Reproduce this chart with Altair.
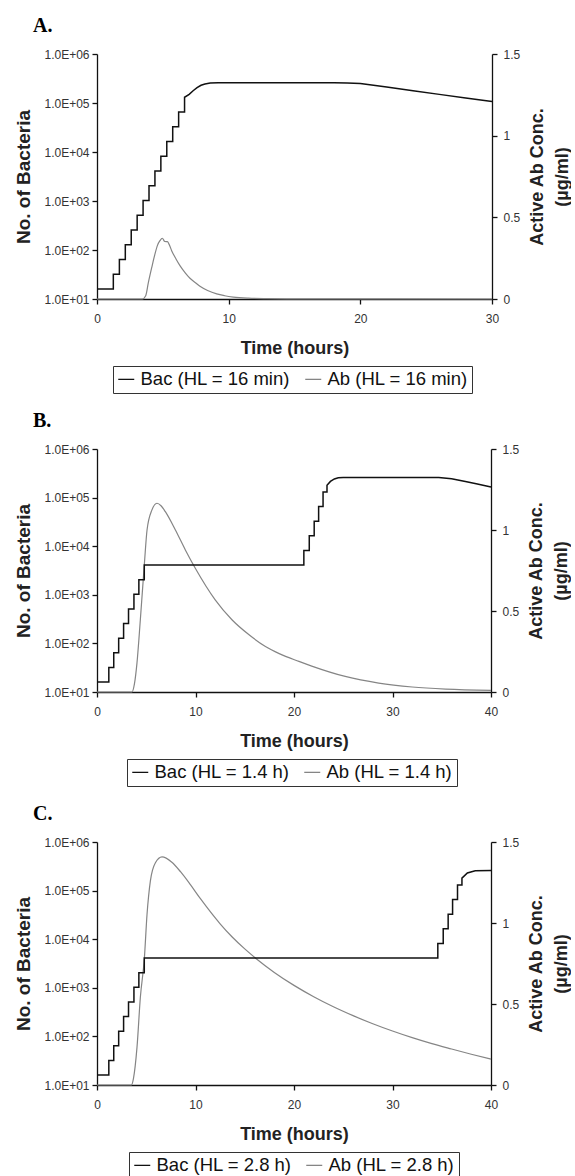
import altair as alt
import pandas as pd

# ---------------- Panel A (HL = 16 min) ----------------
A_bac_label = "Bac (HL = 16 min)"
A_ab_label = "Ab (HL = 16 min)"
A_bac_start = 16
A_bac_rise_t = [1.24, 1.7, 2.15, 2.6, 3.05, 3.5, 3.95, 4.4, 4.85, 5.3, 5.75, 6.2, 6.65]
A_bac_rise_n = [32, 64, 128, 256, 512, 1024, 2048, 4096, 8192, 16384, 32768, 65536, 131072]
A_bac_tail_t = [7.0, 7.3, 7.6, 7.9, 8.2, 8.6, 9.2, 10, 18, 19, 20, 22, 24, 26, 28, 30]
A_bac_tail_n = [150000, 178000, 205000, 230000, 245000, 255000, 260000, 260000, 260000,
                257000, 250000, 211000, 178000, 150000, 127000, 107000]
A_ab_t = [0, 3.45, 3.7, 3.9, 4.15, 4.4, 4.6, 4.78, 4.96, 5.15, 5.35, 5.5, 5.67, 6.0, 6.3,
          6.7, 7.06, 7.5, 7.82, 8.4, 9.09, 9.7, 10.35, 11.5, 12.9, 15, 30]
A_ab_c = [0, 0, 0.02, 0.10, 0.19, 0.275, 0.33, 0.357, 0.372, 0.352, 0.351, 0.33, 0.296,
          0.245, 0.204, 0.16, 0.127, 0.098, 0.078, 0.052, 0.031, 0.02, 0.012, 0.005,
          0.002, 0.0005, 0]

# ---------------- Panel B (HL = 1.4 h) ----------------
B_bac_label = "Bac (HL = 1.4 h)"
B_ab_label = "Ab (HL = 1.4 h)"
B_bac_start = 16
B_bac_rise_t = [1.2, 1.7, 2.2, 2.7, 3.2, 3.75, 4.25, 4.8, 21.0, 21.55, 22.05, 22.5, 22.95, 23.35]
B_bac_rise_n = [32, 64, 128, 256, 512, 1024, 2048, 4096, 8192, 16384, 32768, 65536, 131072, 180000]
B_bac_tail_t = [23.7, 24.1, 24.5, 25, 34.7, 36, 37.4, 38.5, 40]
B_bac_tail_n = [215000, 242000, 255000, 260000, 260000, 245000, 215000, 192000, 166000]
B_ab_t = [0, 3.55, 3.8, 4.06, 4.4, 4.81, 5.08, 5.58, 6.09, 6.5, 6.94, 7.96, 8.97, 9.98,
          12.0, 13.7, 15.5, 17.1, 18.5, 20.5, 21.8, 25.2, 28.6, 32, 35.4, 40]
B_ab_c = [0, 0, 0.05, 0.18, 0.446, 0.79, 1.0, 1.124, 1.165, 1.15, 1.113, 1.0, 0.877, 0.764,
          0.569, 0.446, 0.35, 0.281, 0.237, 0.189, 0.16, 0.096, 0.055, 0.031, 0.018, 0.01]

# ---------------- Panel C (HL = 2.8 h) ----------------
C_bac_label = "Bac (HL = 2.8 h)"
C_ab_label = "Ab (HL = 2.8 h)"
C_bac_start = 16
C_bac_rise_t = [1.2, 1.7, 2.2, 2.7, 3.2, 3.75, 4.25, 4.8, 34.6, 35.15, 35.65, 36.1, 36.6, 37.05]
C_bac_rise_n = [32, 64, 128, 256, 512, 1024, 2048, 4096, 8192, 16384, 32768, 65536, 131072, 180000]
C_bac_tail_t = [37.6, 38.4, 40]
C_bac_tail_n = [230000, 255000, 260000]
C_ab_t = [0, 3.49, 3.7, 4.06, 4.4, 4.81, 5.08, 5.42, 5.93, 6.6, 7.6, 8.5, 9.5, 10.5,
          11.5, 12.5, 13.7, 15, 16.2, 18, 20, 22, 24, 26, 28, 30, 32, 34, 36, 38, 40]
C_ab_c = [0, 0, 0.04, 0.232, 0.54, 0.783, 1.054, 1.26, 1.372, 1.408, 1.375, 1.315, 1.235,
          1.15, 1.07, 0.995, 0.915, 0.84, 0.778, 0.695, 0.615, 0.545, 0.483, 0.428, 0.378,
          0.333, 0.292, 0.255, 0.222, 0.19, 0.16]

BAC_COLOR = "#111111"
AB_COLOR = "#858585"
FONT = "Liberation Sans"


def bac_frame(start, rise_t, rise_n, tail_t, tail_n, label):
    rows = [(0.0, start)]
    prev = start
    for t, n in zip(rise_t, rise_n):
        rows.append((t, prev))
        rows.append((t, n))
        prev = n
    rows += list(zip(tail_t, tail_n))
    df = pd.DataFrame(rows, columns=["t", "v"])
    df["i"] = range(len(df))
    df["series"] = label
    return df


def ab_frame(ts, cs, label):
    df = pd.DataFrame({"t": ts, "v": cs})
    df["i"] = range(len(df))
    df["series"] = label
    return df


def panel(letter, xmax, bac_df, ab_df, bac_label, ab_label, w, h, legend_x):
    xenc = alt.X(
        "t:Q",
        scale=alt.Scale(domain=[0, xmax], nice=False),
        axis=alt.Axis(values=list(range(0, xmax + 1, 10)), title="Time (hours)",
                      labelFlush=False, labelPadding=9, titlePadding=15),
    )
    color = alt.Color(
        "series:N",
        scale=alt.Scale(domain=[bac_label, ab_label], range=[BAC_COLOR, AB_COLOR]),
        legend=alt.Legend(
            title=None, orient="none", legendX=legend_x, legendY=h + 67,
            direction="horizontal", symbolType="stroke", symbolSize=256,
            symbolStrokeWidth=1.3, labelFont=FONT, labelFontSize=18.5,
            labelColor="#111111", labelLimit=400, labelOffset=5,
            columnPadding=11, padding=4, strokeColor="#333333", fillColor="white",
        ),
    )
    bac = alt.Chart(bac_df).mark_line(strokeWidth=1.5).encode(
        x=xenc,
        y=alt.Y(
            "v:Q",
            scale=alt.Scale(type="log", domain=[10, 1000000], nice=False),
            axis=alt.Axis(
                orient="left", values=[10, 100, 1000, 10000, 100000, 1000000],
                labelExpr="'1.0E+0' + round(log(datum.value) / LN10)",
                title="No. of Bacteria", labelPadding=3,
                titleX=-64, titleY=h / 2, titleAngle=270, titleBaseline="bottom",
                titleFontSize=19, labelFlush=False, labelOverlap=False,
            ),
        ),
        color=color,
        order=alt.Order("i:Q"),
    )
    ab = alt.Chart(ab_df).mark_line(strokeWidth=1.2, interpolate="monotone").encode(
        x=xenc,
        y=alt.Y(
            "v:Q",
            scale=alt.Scale(domain=[0, 1.5], nice=False),
            axis=alt.Axis(
                orient="right", values=[0, 0.5, 1, 1.5],
                labelExpr="'' + datum.value",
                title=["Active Ab Conc.", "(µg/ml)"], titleAngle=270,
                titleBaseline="top", titleX=36, titleY=h / 2, titleLineHeight=25,
                labelPadding=6, labelFlush=False,
            ),
        ),
        color=color,
        order=alt.Order("i:Q"),
    )
    return alt.layer(ab, bac).resolve_scale(y="independent").properties(
        width=w, height=h,
        title=alt.TitleParams(
            text=letter, anchor="start", frame="group", font="Liberation Serif",
            fontSize=20, fontWeight="bold", color="black", dx=-64, offset=-4,
            baseline="alphabetic",
        ),
    )


pA = panel("A.", 30,
           bac_frame(A_bac_start, A_bac_rise_t, A_bac_rise_n, A_bac_tail_t, A_bac_tail_n, A_bac_label),
           ab_frame(A_ab_t, A_ab_c, A_ab_label), A_bac_label, A_ab_label, 395, 245, 16)
pB = panel("B.", 40,
           bac_frame(B_bac_start, B_bac_rise_t, B_bac_rise_n, B_bac_tail_t, B_bac_tail_n, B_bac_label),
           ab_frame(B_ab_t, B_ab_c, B_ab_label), B_bac_label, B_ab_label, 394, 243, 30)
pC = panel("C.", 40,
           bac_frame(C_bac_start, C_bac_rise_t, C_bac_rise_n, C_bac_tail_t, C_bac_tail_n, C_bac_label),
           ab_frame(C_ab_t, C_ab_c, C_ab_label), C_bac_label, C_ab_label, 394, 243, 32)

chart = alt.vconcat(pA, pB, pC, spacing=17).resolve_scale(
    color="independent"
).resolve_legend(color="independent").properties(
    padding={"left": 14, "top": 16, "right": 0, "bottom": 0},
    background="white",
).configure_view(strokeWidth=0).configure_axis(
    domainColor="#111111", domainWidth=1.3, tickColor="#111111", tickWidth=1.3,
    tickSize=5, labelFont=FONT, labelFontSize=12, labelColor="#333333",
    titleFont=FONT, titleFontSize=18, titleFontWeight="bold", titleColor="#222222",
    grid=False,
)

chart.save("out.html", embed_options={"renderer": "svg", "actions": False})
